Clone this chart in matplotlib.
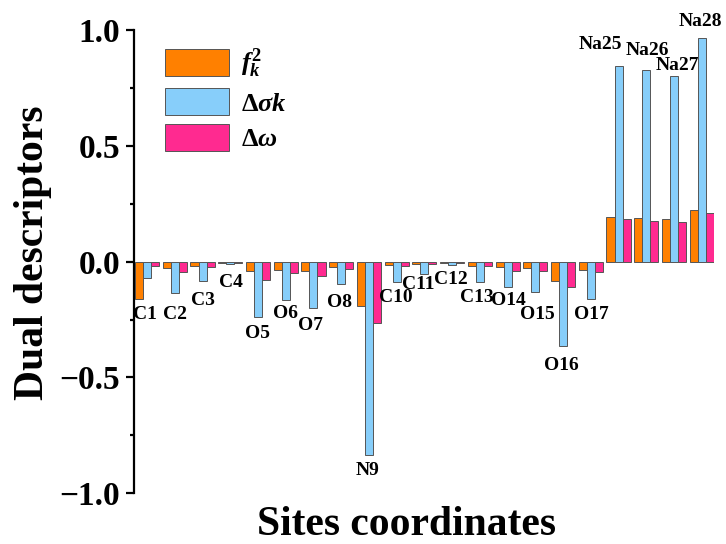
import numpy as np
import matplotlib
matplotlib.use('Agg')
import matplotlib.pyplot as plt
from matplotlib.ticker import MultipleLocator

# site labels and the three dual descriptors
sites = ['C1', 'C2', 'C3', 'C4', 'O5', 'O6', 'O7', 'O8', 'N9', 'C10', 'C11',
         'C12', 'C13', 'O14', 'O15', 'O16', 'O17', 'Na25', 'Na26', 'Na27', 'Na28']
fk2 = [-0.160, -0.026, -0.020, -0.005, -0.040, -0.037, -0.040, -0.025, -0.190,
       -0.015, -0.010, -0.005, -0.020, -0.023, -0.027, -0.085, -0.037,
       0.193, 0.189, 0.186, 0.222]
dsigma = [-0.070, -0.134, -0.082, -0.010, -0.240, -0.167, -0.200, -0.095, -0.833,
          -0.087, -0.052, -0.016, -0.087, -0.110, -0.130, -0.365, -0.163,
          0.843, 0.828, 0.802, 0.965]
domega = [-0.020, -0.045, -0.025, -0.005, -0.080, -0.050, -0.060, -0.030, -0.265,
          -0.020, -0.010, -0.005, -0.020, -0.040, -0.040, -0.110, -0.045,
          0.182, 0.177, 0.173, 0.211]

# label nudges in pixels (dx, gap from bar end)
label_dx = [-2, 0, 0, 1, 0, 0, -3, -2, -1, -1, -6, -1, -3, 1, 2, -2, 1, -18, 1, 3, -1]
label_gap = [7, 13, 11, 10, 8, 5, 9, 10, 7, 7, 2, 6, 7, 5, 14, 11, 7, 13, 11, 2, 8]

plt.rcParams['font.family'] = ['Liberation Serif', 'DejaVu Serif']
plt.rcParams['font.weight'] = 'bold'
plt.rcParams['mathtext.fontset'] = 'custom'
plt.rcParams['mathtext.rm'] = 'Liberation Serif:bold'
plt.rcParams['mathtext.it'] = 'Liberation Serif:italic:bold'
plt.rcParams['mathtext.bf'] = 'Liberation Serif:bold'
plt.rcParams['mathtext.default'] = 'it'

ORANGE = '#FF8000'
BLUE = '#87CEFA'
PINK = '#FF2A90'
EDGE = '#555555'

fig = plt.figure(figsize=(7.26, 5.44), dpi=100)
ax = fig.add_axes([0.1846, 0.0932, 0.7984, 0.8517])

x = np.arange(len(sites))
w = 0.29
ax.bar(x - w, fk2, w, color=ORANGE, edgecolor=EDGE, linewidth=0.7, label=r'$f_k^{2}$')
ax.bar(x, dsigma, w, color=BLUE, edgecolor=EDGE, linewidth=0.7, label=r'$\Delta\sigma k$')
ax.bar(x + w, domega, w, color=PINK, edgecolor=EDGE, linewidth=0.7, label=r'$\Delta\omega$')

for i, name in enumerate(sites):
    lo = min(fk2[i], dsigma[i], domega[i])
    hi = max(fk2[i], dsigma[i], domega[i])
    if hi > 0.05:
        ax.annotate(name, (x[i], hi), xytext=(label_dx[i], label_gap[i]),
                    textcoords='offset pixels', ha='center', va='bottom',
                    fontsize=14, fontweight='bold')
    else:
        ax.annotate(name, (x[i], lo), xytext=(label_dx[i], -label_gap[i]),
                    textcoords='offset pixels', ha='center', va='top',
                    fontsize=14, fontweight='bold')

ax.set_xlim(-0.47, 20.43)
ax.set_ylim(-1.0, 1.0)
ax.set_xticks([])
ax.yaxis.set_major_locator(MultipleLocator(0.5))
ax.yaxis.set_minor_locator(MultipleLocator(0.25))
ax.tick_params(axis='y', which='major', direction='out', length=6, width=1.6,
               labelsize=24, pad=4)
ax.tick_params(axis='y', which='minor', direction='out', length=3, width=1.6)
for lab in ax.get_yticklabels():
    lab.set_fontweight('bold')

for side in ['top', 'right', 'bottom']:
    ax.spines[side].set_visible(False)
ax.spines['left'].set_linewidth(1.6)

ax.set_ylabel('Dual descriptors', fontsize=30, fontweight='bold')
ax.set_xlabel('Sites coordinates', fontsize=30, fontweight='bold')
ax.yaxis.set_label_coords(-0.142, 0.52)
ax.xaxis.set_label_coords(0.47, -0.028)

leg = ax.legend(loc='upper left', bbox_to_anchor=(0.227, 0.915),
                bbox_transform=fig.transFigure, frameon=False, fontsize=19,
                handlelength=2.45, handleheight=1.2, labelspacing=0.3,
                handletextpad=0.45, borderpad=0, borderaxespad=0)

fig.savefig('out.png', dpi=100)
